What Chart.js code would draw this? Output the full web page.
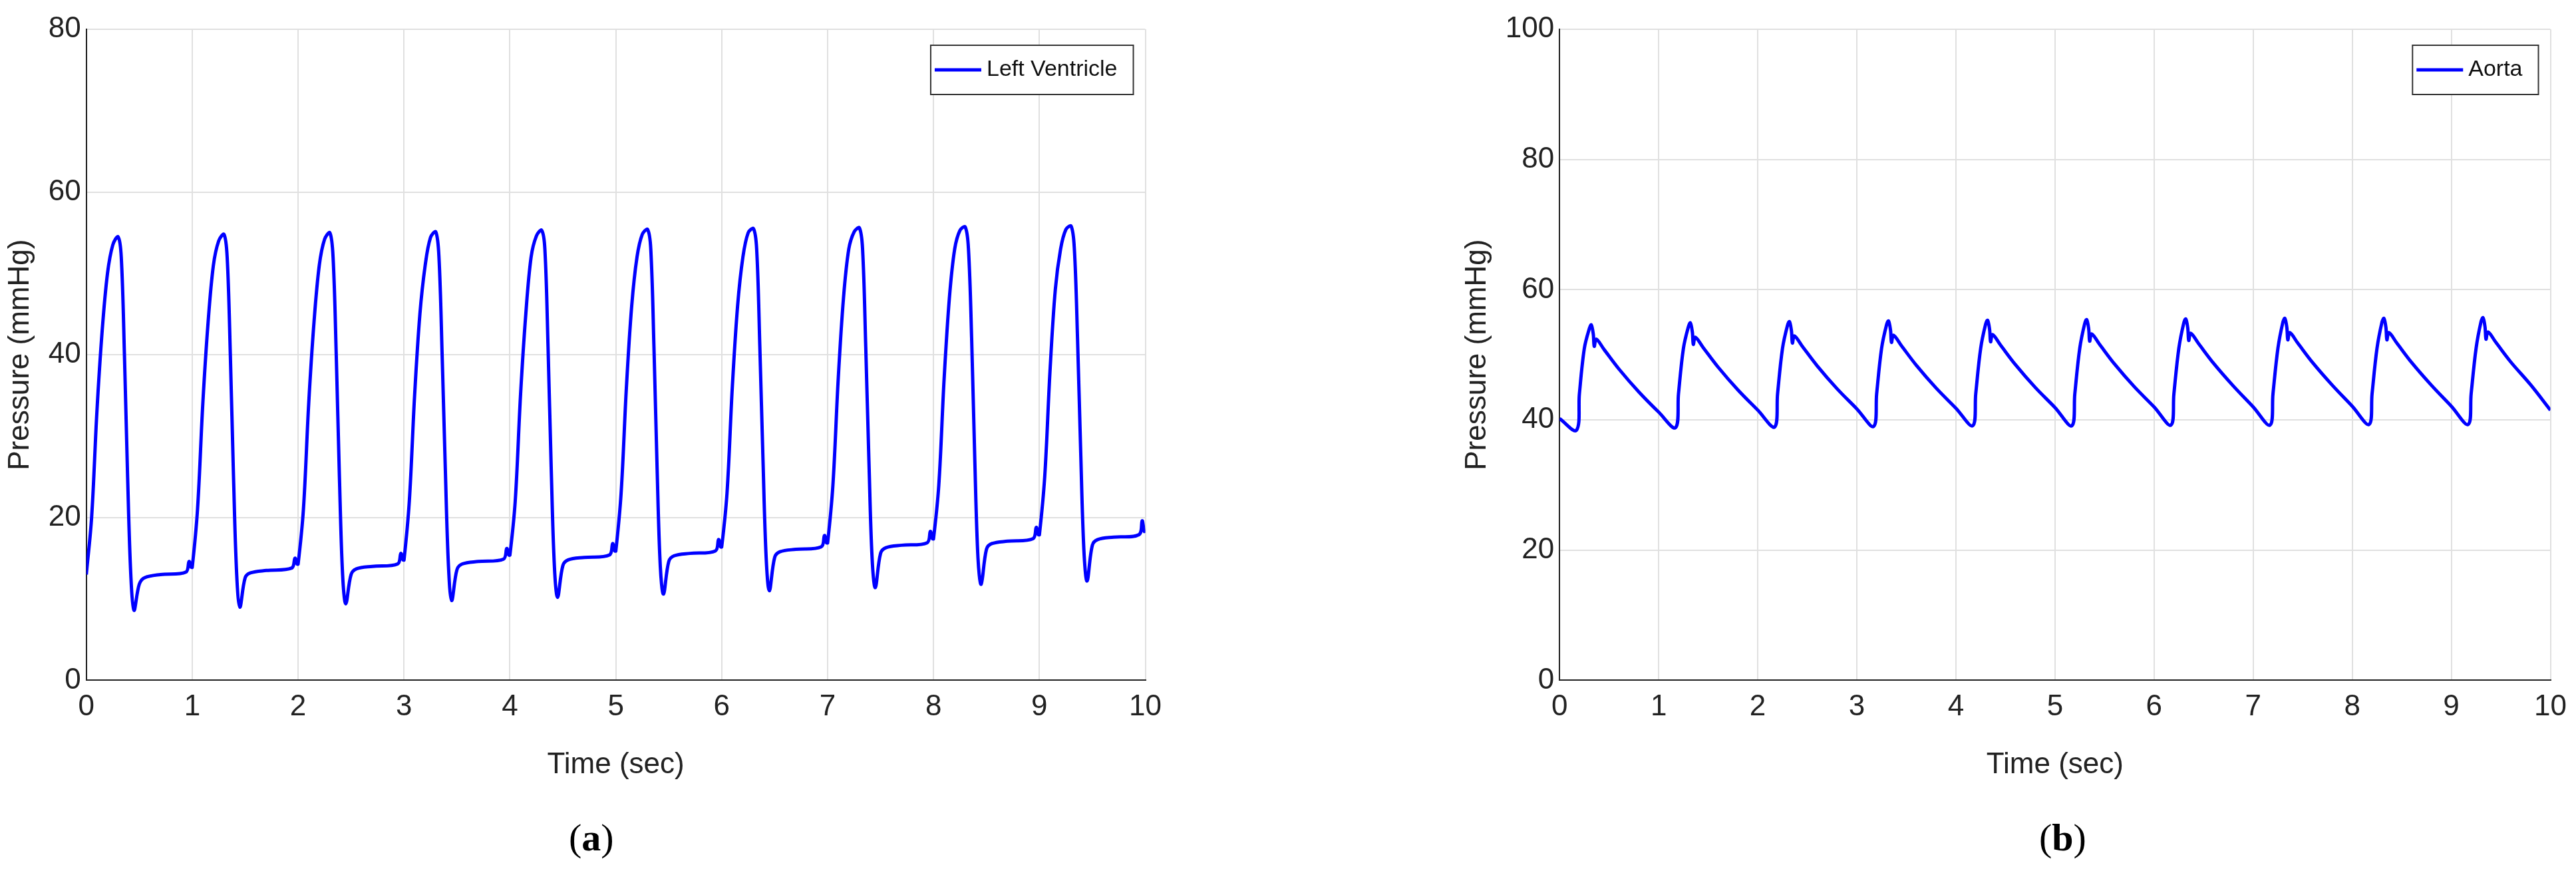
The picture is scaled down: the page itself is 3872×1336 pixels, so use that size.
<!DOCTYPE html>
<html>
<head>
<meta charset="utf-8">
<script src="https://cdn.jsdelivr.net/npm/chart.js@4.4.0/dist/chart.umd.min.js"></script>
<style>
  body { margin: 0; background: #fff; width: 3872px; height: 1336px; position: relative; overflow: hidden; }
  .box { position: absolute; }
  .cap { position: absolute; top: 1225px; font: 58px "Liberation Serif", serif; color: #000; }
</style>
</head>
<body>
<div class="box" style="left:0;top:0;width:1760px;height:1180px"><canvas id="graficaLV"></canvas></div>
<div class="box" style="left:2190px;top:0;width:1682px;height:1180px"><canvas id="graficaAorta"></canvas></div>
<div class="cap" style="left:855px">(<b>a</b>)</div>
<div class="cap" style="left:3065px">(<b>b</b>)</div>
<script>
/* time offsets inside one beat (sec) */
const lvOffsets = [0, 0.05, 0.1, 0.15, 0.2, 0.25, 0.3, 0.33, 0.36, 0.39, 0.42, 0.45, 0.5, 0.55, 0.7, 0.94, 0.97, 0.99];
/* left ventricle pressure, one row per beat */
const lvBeats = [
  [13.0, 20, 33, 43, 50, 53.5, 54.5, 52, 40, 25, 13, 8.6, 11.8, 12.6, 13.0, 13.3, 14.6, 13.9],
  [13.9, 21, 34, 44, 51, 54.0, 54.8, 52, 40, 25, 13, 9.0, 12.6, 13.2, 13.5, 13.8, 15.0, 14.3],
  [14.3, 21, 34, 44, 51, 54.2, 55.0, 52, 40, 25, 13, 9.4, 13.0, 13.7, 14.0, 14.3, 15.6, 14.8],
  [14.8, 22, 35, 45, 51, 54.4, 55.1, 52, 40, 26, 14, 9.8, 13.6, 14.3, 14.6, 14.9, 16.2, 15.4],
  [15.4, 22, 35, 45, 52, 54.6, 55.3, 53, 41, 26, 14, 10.2, 14.1, 14.8, 15.1, 15.4, 16.8, 15.9],
  [15.9, 23, 36, 46, 52, 54.8, 55.4, 53, 41, 26, 14, 10.6, 14.6, 15.3, 15.6, 15.9, 17.3, 16.4],
  [16.4, 23, 36, 46, 52, 55.0, 55.5, 53, 41, 27, 15, 11.0, 15.1, 15.8, 16.1, 16.4, 17.8, 16.9],
  [16.9, 24, 37, 47, 53, 55.1, 55.6, 53, 41, 27, 15, 11.4, 15.6, 16.3, 16.6, 16.9, 18.3, 17.4],
  [17.4, 24, 37, 47, 53, 55.3, 55.7, 53, 42, 27, 15, 11.8, 16.1, 16.8, 17.1, 17.4, 18.8, 17.9],
  [17.9, 25, 38, 48, 53, 55.4, 55.8, 53, 42, 28, 16, 12.2, 16.6, 17.3, 17.6, 17.9, 19.6, 18.3]
];
const lvEnd = [10, 18.5];

/* aorta: start of record, then per beat from the minimum at 0.17 s */
const aoStart = [0, 40.2];
const aoOffsets = [0.17, 0.2, 0.25, 0.3, 0.32, 0.34, 0.35, 0.37, 0.45, 0.6, 0.8, 1.0];
const aoBeats = [
  [38.4, 44, 51, 54.0, 54.6, 53.2, 51.3, 52.4, 50.8, 47.8, 44.3, 41.2],
  [38.8, 44, 51, 54.3, 54.9, 53.5, 51.6, 52.7, 51.1, 48.1, 44.6, 41.5],
  [38.9, 44, 51, 54.5, 55.1, 53.7, 51.8, 52.9, 51.3, 48.3, 44.8, 41.7],
  [39.0, 44, 51, 54.6, 55.2, 53.8, 51.9, 53.0, 51.4, 48.4, 44.9, 41.8],
  [39.1, 44, 51, 54.7, 55.3, 53.9, 52.0, 53.1, 51.5, 48.5, 45.0, 41.9],
  [39.1, 44, 51, 54.8, 55.4, 54.0, 52.1, 53.2, 51.6, 48.6, 45.1, 42.0],
  [39.2, 44, 51, 54.9, 55.5, 54.1, 52.2, 53.3, 51.7, 48.7, 45.2, 42.0],
  [39.2, 44, 51, 55.0, 55.6, 54.2, 52.3, 53.4, 51.8, 48.8, 45.3, 42.1],
  [39.3, 44, 51, 55.0, 55.6, 54.2, 52.3, 53.4, 51.8, 48.8, 45.3, 42.1],
  [39.3, 44, 51, 55.1, 55.7, 54.3, 52.4, 53.5, 51.9, 48.9, 45.4]
];
const aoEnd = [10, 41.5];

const xTicks = [0, 1, 2, 3, 4, 5, 6, 7, 8, 9, 10];

function buildPoints(offsets, beats, start, end) {
  const pts = [];
  if (start) pts.push({ x: start[0], y: start[1] });
  beats.forEach((row, c) => row.forEach((v, i) => pts.push({ x: c + offsets[i], y: v })));
  pts.push({ x: end[0], y: end[1] });
  return pts;
}

/* matlab-like framed legend in the top right corner of the plot */
const boxLegend = {
  id: 'boxLegend',
  afterDraw(chart) {
    const ctx = chart.ctx, a = chart.chartArea;
    const ds = chart.data.datasets[0];
    ctx.save();
    ctx.font = '34px "Liberation Sans"';
    const tw = ctx.measureText(ds.label).width;
    const w = 70 + 14 + tw + 24, h = 74;
    const x = a.right - 18 - w, y = a.top + 24;
    ctx.fillStyle = '#fff';
    ctx.fillRect(x, y, w, h);
    ctx.strokeStyle = '#333';
    ctx.lineWidth = 2;
    ctx.strokeRect(x, y, w, h);
    ctx.strokeStyle = ds.borderColor;
    ctx.lineWidth = 5;
    ctx.beginPath();
    ctx.moveTo(x + 6, y + h / 2);
    ctx.lineTo(x + 76, y + h / 2);
    ctx.stroke();
    ctx.fillStyle = '#111';
    ctx.textBaseline = 'middle';
    ctx.fillText(ds.label, x + 84, y + h / 2);
    ctx.restore();
  }
};

function makeChart(id, label, points, yMax, padRight) {
  const ctx = document.getElementById(id).getContext('2d');
  return new Chart(ctx, {
    type: 'line',
    data: {
      datasets: [{
        label: label,
        data: points,
        borderColor: '#0000ff',
        backgroundColor: '#0000ff',
        borderWidth: 5,
        pointRadius: 0,
        tension: 0.35,
        fill: false
      }]
    },
    plugins: [boxLegend],
    options: {
      responsive: true,
      maintainAspectRatio: false,
      animation: false,
      layout: { padding: { top: 44, right: padRight, left: 0 } },
      plugins: {
        legend: { display: false },
        tooltip: { enabled: false }
      },
      scales: {
        x: {
          type: 'linear',
          min: 0, max: 10,
          afterBuildTicks: axis => { axis.ticks = xTicks.map(v => ({ value: v })); },
          title: { display: true, text: 'Time (sec)', color: '#222', font: { family: 'Liberation Sans', size: 44 }, padding: { top: 20 } },
          ticks: { color: '#222', font: { family: 'Liberation Sans', size: 44 }, padding: 14 },
          grid: { color: '#e0e0e0', lineWidth: 2, drawTicks: false },
          border: { color: '#222', width: 2 }
        },
        y: {
          min: 0, max: yMax,
          ticks: { stepSize: 20, color: '#222', font: { family: 'Liberation Sans', size: 44 }, padding: 8 },
          title: { display: true, text: 'Pressure (mmHg)', color: '#222', font: { family: 'Liberation Sans', size: 44 }, padding: { bottom: 8 } },
          grid: { color: '#e0e0e0', lineWidth: 2, drawTicks: false },
          border: { color: '#222', width: 2 }
        }
      }
    }
  });
}

document.addEventListener('DOMContentLoaded', () => {
  makeChart('graficaLV', 'Left Ventricle', buildPoints(lvOffsets, lvBeats, null, lvEnd), 80, 30);
  makeChart('graficaAorta', 'Aorta', buildPoints(aoOffsets, aoBeats, aoStart, aoEnd), 100, 26);
});
</script>
</body>
</html>
